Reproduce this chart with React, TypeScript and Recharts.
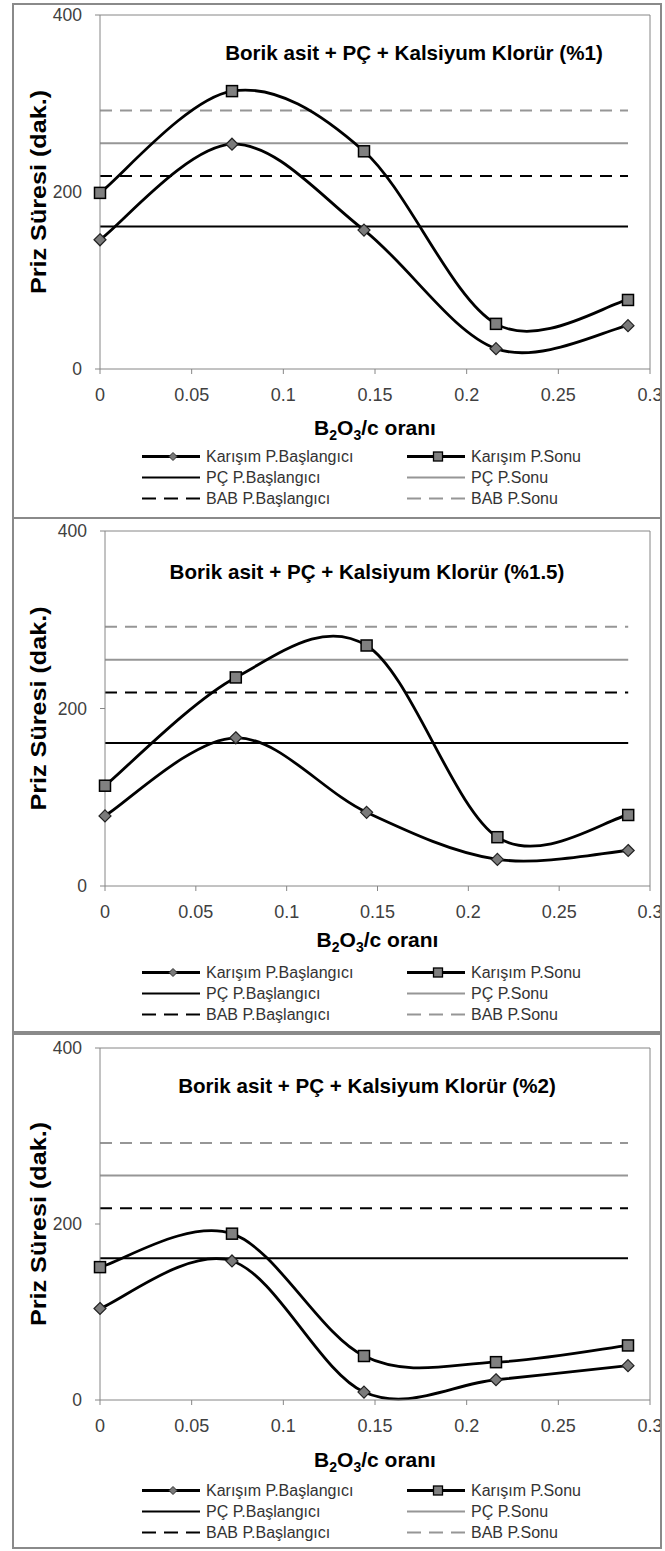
import { ComposedChart, Line, XAxis, YAxis, ReferenceLine, Legend } from 'recharts';

// B2O3/c ratio (x) for every measured point
const B2O3_RATIO = [0, 0.072, 0.144, 0.216, 0.288];
const X_TICKS = [0, 0.05, 0.1, 0.15, 0.2, 0.25, 0.3];
const Y_TICKS = [0, 200, 400];

// setting times (dak.) - %1 CaCl2
const MIX_START_1 = [146, 254, 157, 23, 49];
const MIX_END_1 = [199, 314, 246, 51, 78];
// %1.5 CaCl2
const MIX_START_15 = [79, 167, 83, 30, 40];
const MIX_END_15 = [113, 235, 271, 55, 80];
// %2 CaCl2
const MIX_START_2 = [104, 158, 9, 23, 39];
const MIX_END_2 = [151, 189, 50, 43, 62];

// reference cements
const PC_START = [161, 161, 161, 161, 161];
const PC_END = [255, 255, 255, 255, 255];
const BAB_START = [218, 218, 218, 218, 218];
const BAB_END = [292, 292, 292, 292, 292];

const FONT = '"Liberation Sans", Arial, sans-serif';
const AXIS_GRAY = '#868686';
const LINE_GRAY = '#969696';

// Excel-like smoothed line (cubic bezier, 1/6 tangents)
const excelSmooth = (context: any) => {
  let xs: number[] = [];
  let ys: number[] = [];
  return {
    areaStart() {},
    areaEnd() {},
    lineStart() {
      xs = [];
      ys = [];
    },
    point(x: number, y: number) {
      xs.push(+x);
      ys.push(+y);
    },
    lineEnd() {
      const n = xs.length;
      if (!n) return;
      context.moveTo(xs[0], ys[0]);
      for (let i = 0; i < n - 1; i++) {
        const a = Math.max(i - 1, 0);
        const d = Math.min(i + 2, n - 1);
        context.bezierCurveTo(
          xs[i] + (xs[i + 1] - xs[a]) / 6,
          ys[i] + (ys[i + 1] - ys[a]) / 6,
          xs[i + 1] - (xs[d] - xs[i]) / 6,
          ys[i + 1] - (ys[d] - ys[i]) / 6,
          xs[i + 1],
          ys[i + 1]
        );
      }
    },
  };
};

const renderDiamond = (p: any) => {
  const r = 6;
  return (
    <path
      key={`d-${p.index}`}
      d={`M${p.cx},${p.cy - r}L${p.cx + r},${p.cy}L${p.cx},${p.cy + r}L${p.cx - r},${p.cy}Z`}
      fill="#7a7a7a"
      stroke="#222"
      strokeWidth={1.2}
    />
  );
};

const renderSquare = (p: any) => {
  const r = 5.5;
  return (
    <rect
      key={`s-${p.index}`}
      x={p.cx - r}
      y={p.cy - r}
      width={r * 2}
      height={r * 2}
      fill="#808080"
      stroke="#000"
      strokeWidth={1.5}
    />
  );
};

const SERIES = [
  { key: 'pcStart', name: 'PÇ P.Başlangıcı', color: '#000', width: 2, dash: undefined, marker: null },
  { key: 'pcEnd', name: 'PÇ P.Sonu', color: LINE_GRAY, width: 2, dash: undefined, marker: null },
  { key: 'babStart', name: 'BAB P.Başlangıcı', color: '#000', width: 2, dash: '12 8', marker: null },
  { key: 'babEnd', name: 'BAB P.Sonu', color: LINE_GRAY, width: 2, dash: '12 8', marker: null },
  { key: 'mixStart', name: 'Karışım P.Başlangıcı', color: '#000', width: 2.8, dash: undefined, marker: 'diamond' },
  { key: 'mixEnd', name: 'Karışım P.Sonu', color: '#000', width: 2.8, dash: undefined, marker: 'square' },
];

const LEGEND_ORDER = ['mixStart', 'mixEnd', 'pcStart', 'pcEnd', 'babStart', 'babEnd'];

const buildRows = (start: number[], end: number[]) =>
  B2O3_RATIO.map((x, i) => ({
    x,
    mixStart: start[i],
    mixEnd: end[i],
    pcStart: PC_START[i],
    pcEnd: PC_END[i],
    babStart: BAB_START[i],
    babEnd: BAB_END[i],
  }));

const PANELS = [
  { title: 'Borik asit + PÇ + Kalsiyum Klorür (%1)', start: MIX_START_1, end: MIX_END_1, top: 3, titleX: 400, titleY: 48, marginTop: 10, yWidth: 86, xHeight: 148, xTitleGap: 59, legendTop: 441 },
  { title: 'Borik asit + PÇ + Kalsiyum Klorür (%1.5)', start: MIX_START_15, end: MIX_END_15, top: 517, titleX: 353, titleY: 53, marginTop: 12, yWidth: 91, xHeight: 145, xTitleGap: 54, legendTop: 443 },
  { title: 'Borik asit + PÇ + Kalsiyum Klorür (%2)', start: MIX_START_2, end: MIX_END_2, top: 1033, titleX: 353, titleY: 51, marginTop: 13, yWidth: 86, xHeight: 147, xTitleGap: 60, legendTop: 445 },
];

const XTick = ({ x, y, payload }: any) => (
  <text x={x} y={y} dy={27} textAnchor="middle" fontSize={18} fill="#404040" fontFamily={FONT}>
    {payload.value}
  </text>
);

const YTick = ({ x, y, payload }: any) => (
  <text x={x - 13} y={y} dy={6} textAnchor="end" fontSize={17.5} fill="#404040" fontFamily={FONT}>
    {payload.value}
  </text>
);

const LegendIcon = ({ s }: any) => (
  <svg width={58} height={21} style={{ position: 'absolute', left: 0, top: 0 }}>
    <line
      x1={0}
      x2={58}
      y1={10.5}
      y2={10.5}
      stroke={s.color}
      strokeWidth={s.marker ? 3 : 2}
      strokeDasharray={s.dash ? '14 8' : undefined}
    />
    {s.marker === 'diamond' && <path d="M31,6.5L35,10.5L31,14.5L27,10.5Z" fill="#7a7a7a" stroke="#333" strokeWidth={1} />}
    {s.marker === 'square' && <rect x={26.5} y={6} width={9} height={9} fill="#808080" stroke="#000" strokeWidth={1.3} />}
  </svg>
);

const renderLegend = ({ payload }: any) => {
  const items = [...(payload || [])].sort(
    (a: any, b: any) => LEGEND_ORDER.indexOf(a.dataKey) - LEGEND_ORDER.indexOf(b.dataKey)
  );
  return (
    <div style={{ position: 'relative', width: 646, height: 64 }}>
      {items.map((entry: any, i: number) => {
        const s = SERIES.find((d) => d.key === entry.dataKey)!;
        return (
          <div
            key={entry.dataKey}
            style={{
              position: 'absolute',
              left: i % 2 === 0 ? 128 : 393,
              top: Math.floor(i / 2) * 21,
              height: 21,
              width: 240,
            }}
          >
            <LegendIcon s={s} />
            <span
              style={{
                position: 'absolute',
                left: 64,
                top: 0,
                lineHeight: '21px',
                fontSize: 16,
                fontFamily: FONT,
                color: '#333',
                whiteSpace: 'nowrap',
              }}
            >
              {entry.value}
            </span>
          </div>
        );
      })}
    </div>
  );
};

const Panel = ({ cfg }: any) => {
  const rows = buildRows(cfg.start, cfg.end);
  return (
    <div
      style={{
        position: 'absolute',
        left: 12,
        top: cfg.top,
        width: 650,
        height: 516,
        boxSizing: 'border-box',
        border: '2px solid #8a8a8a',
        background: '#fff',
      }}
    >
      <ComposedChart width={646} height={512} data={rows} margin={{ top: cfg.marginTop, right: 10, left: 0, bottom: 0 }}>
        <XAxis
          dataKey="x"
          type="number"
          domain={[0, 0.3]}
          ticks={X_TICKS}
          interval={0}
          height={cfg.xHeight}
          stroke={AXIS_GRAY}
          tickSize={5}
          tickMargin={0}
          tick={<XTick />}
          label={{
            content: ({ viewBox }: any) => {
              const cx = viewBox.x + viewBox.width / 2;
              const cy = viewBox.y + cfg.xTitleGap + 7;
              return (
                <text x={cx} y={cy} textAnchor="middle" fontSize={21} fontWeight="bold" fontFamily={FONT} fill="#000">
                  B<tspan fontSize={14} dy={5}>2</tspan>
                  <tspan dy={-5}>O</tspan>
                  <tspan fontSize={14} dy={5}>3</tspan>
                  <tspan dy={-5}>/c  oranı</tspan>
                </text>
              );
            },
          }}
        />
        <YAxis
          type="number"
          domain={[0, 400]}
          ticks={Y_TICKS}
          interval={0}
          width={cfg.yWidth}
          stroke={AXIS_GRAY}
          tickSize={5}
          tickMargin={0}
          tick={<YTick />}
          label={{
            content: ({ viewBox }: any) => {
              const cy = viewBox.y + viewBox.height / 2;
              return (
                <text
                  x={24}
                  y={cy}
                  transform={`rotate(-90, 24, ${cy})`}
                  dy={8}
                  textAnchor="middle"
                  fontSize={22}
                  fontWeight="bold"
                  fontFamily={FONT}
                  fill="#000"
                  textLength={204}
                  lengthAdjust="spacingAndGlyphs"
                >
                  Priz Süresi (dak.)
                </text>
              );
            },
          }}
        />
        <ReferenceLine y={400} stroke={AXIS_GRAY} />
        <ReferenceLine x={0.3} stroke={AXIS_GRAY} />
        {SERIES.map((s) => (
          <Line
            key={s.key}
            dataKey={s.key}
            name={s.name}
            stroke={s.color}
            strokeWidth={s.width}
            strokeDasharray={s.dash}
            type={s.marker ? (excelSmooth as any) : 'linear'}
            dot={s.marker === 'diamond' ? renderDiamond : s.marker === 'square' ? renderSquare : false}
            activeDot={false}
            isAnimationActive={false}
          />
        ))}
        <Legend
          layout="vertical"
          align="center"
          verticalAlign="middle"
          wrapperStyle={{ top: cfg.legendTop, left: 0, width: 646, height: 64 }}
          content={renderLegend}
        />
      </ComposedChart>
      <div
        style={{
          position: 'absolute',
          left: cfg.titleX - 250,
          top: cfg.titleY - 14,
          width: 500,
          textAlign: 'center',
          fontFamily: FONT,
          fontWeight: 'bold',
          fontSize: 20.6,
          lineHeight: '28px',
          color: '#000',
          whiteSpace: 'nowrap',
        }}
      >
        {cfg.title}
      </div>
    </div>
  );
};

export default function App() {
  return (
    <div style={{ position: 'absolute', left: 0, top: 0, width: 665, height: 1551, background: '#fff' }}>
      {PANELS.map((cfg) => (
        <Panel key={cfg.title} cfg={cfg} />
      ))}
    </div>
  );
}
